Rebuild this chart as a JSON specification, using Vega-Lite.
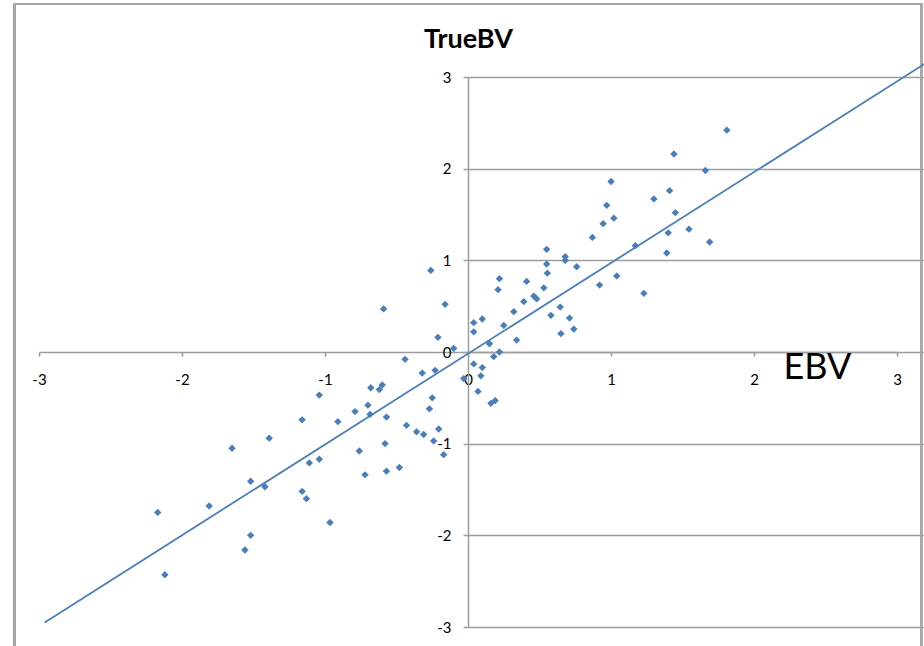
{
  "$schema": "https://vega.github.io/schema/vega-lite/v6.json",
  "width": 858,
  "height": 550,
  "autosize": {"type": "none"},
  "padding": {"left": 39, "top": 77, "right": 27, "bottom": 19},
  "background": "white",
  "config": {
    "view": {"stroke": null},
    "font": "Lato",
    "axisX": {
      "titleFontSize": 36, "titleFontWeight": "normal", "titleColor": "#000000",
      "titleX": 778, "titleY": 26, "titleAlign": "center", "titleBaseline": "alphabetic",
      "offset": -275,
      "domainColor": "#9d9d9d", "domainWidth": 1.5,
      "tickColor": "#9d9d9d", "tickSize": 4, "tickWidth": 1.5,
      "labelFontSize": 15, "labelColor": "#000000", "labelPadding": 16,
      "labelFlush": false, "labelOverlap": false, "grid": false
    },
    "axisY": {
      "titleAngle": 0, "titleX": 0, "titleY": -30, "titleFontSize": 27,
      "titleFontWeight": "bold", "titleColor": "#000000", "titleAlign": "center", "titleBaseline": "alphabetic",
      "offset": -429,
      "domainColor": "#9d9d9d", "domainWidth": 1.5,
      "tickColor": "#9d9d9d", "tickSize": 5, "tickWidth": 1.5,
      "labelFontSize": 15, "labelColor": "#000000", "labelPadding": 12,
      "labelFlush": false, "labelOverlap": false,
      "grid": true, "gridColor": "#9d9d9d", "gridWidth": 1.5
    }
  },
  "datasets": {
    "points": [
      {"EBV": -1.04, "TrueBV": -0.47}, {"EBV": -1.16, "TrueBV": -0.74}, {"EBV": -1.39, "TrueBV": -0.94},
      {"EBV": -1.65, "TrueBV": -1.05}, {"EBV": -1.04, "TrueBV": -1.17}, {"EBV": -1.11, "TrueBV": -1.21},
      {"EBV": -1.52, "TrueBV": -1.41}, {"EBV": -1.42, "TrueBV": -1.47}, {"EBV": -1.16, "TrueBV": -1.52},
      {"EBV": -1.13, "TrueBV": -1.6}, {"EBV": -1.81, "TrueBV": -1.68}, {"EBV": -2.17, "TrueBV": -1.75},
      {"EBV": -0.965, "TrueBV": -1.86}, {"EBV": -1.52, "TrueBV": -2.0}, {"EBV": -1.56, "TrueBV": -2.16},
      {"EBV": -2.12, "TrueBV": -2.43},
      {"EBV": -0.26, "TrueBV": 0.89}, {"EBV": -0.59, "TrueBV": 0.47}, {"EBV": -0.16, "TrueBV": 0.52},
      {"EBV": -0.21, "TrueBV": 0.16}, {"EBV": -0.1, "TrueBV": 0.04}, {"EBV": -0.44, "TrueBV": -0.08},
      {"EBV": -0.32, "TrueBV": -0.23}, {"EBV": -0.23, "TrueBV": -0.2}, {"EBV": -0.03, "TrueBV": -0.29},
      {"EBV": -0.6, "TrueBV": -0.36}, {"EBV": -0.68, "TrueBV": -0.39}, {"EBV": -0.62, "TrueBV": -0.41},
      {"EBV": -0.25, "TrueBV": -0.5}, {"EBV": -0.7, "TrueBV": -0.58}, {"EBV": -0.79, "TrueBV": -0.65},
      {"EBV": -0.27, "TrueBV": -0.62}, {"EBV": -0.685, "TrueBV": -0.68}, {"EBV": -0.57, "TrueBV": -0.71},
      {"EBV": -0.91, "TrueBV": -0.76}, {"EBV": -0.43, "TrueBV": -0.8}, {"EBV": -0.205, "TrueBV": -0.84},
      {"EBV": -0.36, "TrueBV": -0.87}, {"EBV": -0.31, "TrueBV": -0.9}, {"EBV": -0.24, "TrueBV": -0.97},
      {"EBV": -0.58, "TrueBV": -1.0}, {"EBV": -0.17, "TrueBV": -1.12}, {"EBV": -0.76, "TrueBV": -1.08},
      {"EBV": -0.72, "TrueBV": -1.34}, {"EBV": -0.57, "TrueBV": -1.3}, {"EBV": -0.48, "TrueBV": -1.26},
      {"EBV": 0.04, "TrueBV": 0.32}, {"EBV": 0.04, "TrueBV": 0.22}, {"EBV": 0.1, "TrueBV": 0.36},
      {"EBV": 0.22, "TrueBV": 0.8}, {"EBV": 0.21, "TrueBV": 0.68}, {"EBV": 0.41, "TrueBV": 0.77},
      {"EBV": 0.39, "TrueBV": 0.55}, {"EBV": 0.32, "TrueBV": 0.44}, {"EBV": 0.25, "TrueBV": 0.29},
      {"EBV": 0.34, "TrueBV": 0.13}, {"EBV": 0.15, "TrueBV": 0.09}, {"EBV": 0.22, "TrueBV": 0.0},
      {"EBV": 0.18, "TrueBV": -0.05}, {"EBV": 0.04, "TrueBV": -0.13}, {"EBV": 0.1, "TrueBV": -0.17},
      {"EBV": 0.09, "TrueBV": -0.26}, {"EBV": 0.07, "TrueBV": -0.43}, {"EBV": 0.16, "TrueBV": -0.56},
      {"EBV": 0.19, "TrueBV": -0.53},
      {"EBV": 0.46, "TrueBV": 0.61}, {"EBV": 0.48, "TrueBV": 0.58}, {"EBV": 0.53, "TrueBV": 0.7},
      {"EBV": 0.55, "TrueBV": 1.12}, {"EBV": 0.55, "TrueBV": 0.96}, {"EBV": 0.555, "TrueBV": 0.86},
      {"EBV": 0.68, "TrueBV": 1.04}, {"EBV": 0.68, "TrueBV": 1.0}, {"EBV": 0.76, "TrueBV": 0.93},
      {"EBV": 0.87, "TrueBV": 1.25}, {"EBV": 0.58, "TrueBV": 0.4}, {"EBV": 0.645, "TrueBV": 0.49},
      {"EBV": 0.71, "TrueBV": 0.37}, {"EBV": 0.74, "TrueBV": 0.25}, {"EBV": 0.65, "TrueBV": 0.2},
      {"EBV": 0.92, "TrueBV": 0.73}, {"EBV": 1.04, "TrueBV": 0.83}, {"EBV": 1.17, "TrueBV": 1.16},
      {"EBV": 1.23, "TrueBV": 0.64}, {"EBV": 1.4, "TrueBV": 1.3}, {"EBV": 1.39, "TrueBV": 1.08},
      {"EBV": 1.81, "TrueBV": 2.42}, {"EBV": 1.44, "TrueBV": 2.16}, {"EBV": 1.66, "TrueBV": 1.98},
      {"EBV": 1.0, "TrueBV": 1.86}, {"EBV": 1.41, "TrueBV": 1.76}, {"EBV": 0.97, "TrueBV": 1.6},
      {"EBV": 1.3, "TrueBV": 1.67}, {"EBV": 1.45, "TrueBV": 1.52}, {"EBV": 1.02, "TrueBV": 1.46},
      {"EBV": 0.945, "TrueBV": 1.4}, {"EBV": 1.545, "TrueBV": 1.34}, {"EBV": 1.69, "TrueBV": 1.2}
    ],
    "trend": [
      {"EBV": -2.96, "TrueBV": -2.95},
      {"EBV": 3.25, "TrueBV": 3.2}
    ]
  },
  "layer": [
    {
      "data": {"name": "points"},
      "mark": {"type": "rect", "filled": false, "stroke": "#a6a6a6", "strokeWidth": 1.2, "clip": false},
      "encoding": {
        "x": {"datum": -3.171, "type": "quantitative", "title": "EBV", "scale": {"domain": [-3, 3], "nice": false, "zero": false}, "axis": {"values": [-3, -2, -1, 0, 1, 2, 3], "labelExpr": "'' + datum.value"}},
        "x2": {"datum": 3.171},
        "y": {"datum": 3.8, "type": "quantitative", "title": "TrueBV", "scale": {"domain": [-3, 3], "nice": false, "zero": false}, "axis": {"values": [-3, -2, -1, 0, 1, 2, 3], "labelExpr": "'' + datum.value"}},
        "y2": {"datum": -3.4}
      }
    },
    {
      "data": {"name": "trend"},
      "mark": {"type": "line", "color": "#4a7ebb", "strokeWidth": 1.8, "clip": false},
      "encoding": {
        "x": {"field": "EBV", "type": "quantitative", "title": "EBV", "scale": {"domain": [-3, 3], "nice": false, "zero": false}, "axis": {"values": [-3, -2, -1, 0, 1, 2, 3], "labelExpr": "'' + datum.value"}},
        "y": {"field": "TrueBV", "type": "quantitative", "title": "TrueBV", "scale": {"domain": [-3, 3], "nice": false, "zero": false}, "axis": {"values": [-3, -2, -1, 0, 1, 2, 3], "labelExpr": "'' + datum.value"}}
      }
    },
    {
      "data": {"name": "points"},
      "mark": {"type": "point", "shape": "diamond", "filled": true, "size": 55, "color": "#4a7ebb", "opacity": 1},
      "encoding": {
        "x": {"field": "EBV", "type": "quantitative", "title": "EBV", "scale": {"domain": [-3, 3], "nice": false, "zero": false}, "axis": {"values": [-3, -2, -1, 0, 1, 2, 3], "labelExpr": "'' + datum.value"}},
        "y": {"field": "TrueBV", "type": "quantitative", "title": "TrueBV", "scale": {"domain": [-3, 3], "nice": false, "zero": false}, "axis": {"values": [-3, -2, -1, 0, 1, 2, 3], "labelExpr": "'' + datum.value"}}
      }
    }
  ]
}
